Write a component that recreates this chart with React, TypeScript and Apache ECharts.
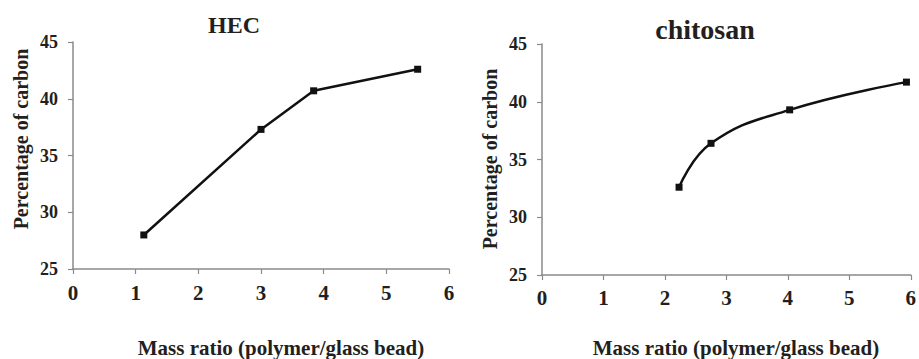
import React, { useEffect, useRef } from "react";
import * as echarts from "echarts";

const hecRatio = [1.13, 3.0, 3.84, 5.5];
const hecCarbon = [28.0, 37.3, 40.7, 42.6];
const chitosanRatio = [2.23, 2.75, 4.03, 5.93];
const chitosanCarbon = [32.6, 36.4, 39.3, 41.7];
const titles = ["HEC", "chitosan"];
const xName = "Mass ratio (polymer/glass bead)";
const yName = "Percentage of carbon";

const FONT = "Liberation Serif";
const TXT = "#231f20";
const AXIS = "#8a8a8a";

export default function App() {
  const ref = useRef<HTMLDivElement>(null);
  useEffect(() => {
    if (!ref.current) return;
    const chart = echarts.init(ref.current, null, { renderer: "svg" });
    const labelStyle = (size: number) => ({
      fontFamily: FONT,
      fontWeight: "bold",
      fontSize: size,
      color: TXT,
    });
    const xAxisBase = (gridIndex: number, margin: number) => ({
      type: "value",
      gridIndex,
      min: 0,
      max: 6,
      interval: 1,
      splitLine: { show: false },
      axisLine: { show: true, onZero: false, lineStyle: { color: AXIS, width: 1.5 } },
      axisTick: { show: true, length: 5, lineStyle: { color: AXIS, width: 1.2 } },
      axisLabel: {
        show: true,
        margin,
        ...labelStyle(21),
        formatter: "{t|{value}}",
        rich: { t: labelStyle(21) },
      },
    });
    const yAxisBase = (gridIndex: number) => ({
      type: "value",
      gridIndex,
      min: 25,
      max: 45,
      interval: 5,
      splitLine: { show: false },
      axisLine: { show: true, onZero: false, lineStyle: { color: AXIS, width: 1.5 } },
      axisTick: { show: true, length: 5, lineStyle: { color: AXIS, width: 1.2 } },
      axisLabel: {
        show: true,
        margin: 15,
        ...labelStyle(18),
        formatter: "{t|{value}}",
        rich: { t: labelStyle(18) },
      },
    });
    const lineSeries = (idx: number, xs: number[], ys: number[], smooth: number | boolean) => ({
      type: "line",
      xAxisIndex: idx,
      yAxisIndex: idx,
      data: xs.map((x, i) => [x, ys[i]]),
      smooth,
      symbol: "rect",
      symbolSize: 7,
      lineStyle: { color: "#111", width: 2.5 },
      itemStyle: { color: "#111" },
    });
    const textStyle = (size: number) => ({
      fontFamily: FONT,
      fontWeight: "bold",
      fontSize: size,
      fill: TXT,
      textAlign: "center",
      textVerticalAlign: "middle",
    });
    chart.setOption({
      animation: false,
      textStyle: { fontFamily: FONT },
      grid: [
        { left: 73, top: 42, width: 376, height: 227 },
        { left: 542, top: 44, width: 370, height: 231 },
      ],
      xAxis: [xAxisBase(0, 13), xAxisBase(1, 12)],
      yAxis: [yAxisBase(0), yAxisBase(1)],
      series: [
        lineSeries(0, hecRatio, hecCarbon, false),
        lineSeries(1, chitosanRatio, chitosanCarbon, 0.45),
      ],
      graphic: [
        { type: "text", x: 234, y: 25, style: { text: titles[0], ...textStyle(24) } },
        { type: "text", x: 705, y: 29, style: { text: titles[1], ...textStyle(28) } },
        { type: "text", x: 281, y: 348, style: { text: xName, ...textStyle(21) } },
        { type: "text", x: 736, y: 348, style: { text: xName, ...textStyle(21) } },
        { type: "text", x: 21, y: 139, rotation: Math.PI / 2, style: { text: yName, ...textStyle(20) } },
        { type: "text", x: 490, y: 159, rotation: Math.PI / 2, style: { text: yName, ...textStyle(20) } },
      ],
    });
    return () => chart.dispose();
  }, []);
  return (
    <div
      ref={ref}
      style={{ position: "fixed", left: 0, top: 0, width: 919, height: 359, background: "#fff" }}
    />
  );
}
